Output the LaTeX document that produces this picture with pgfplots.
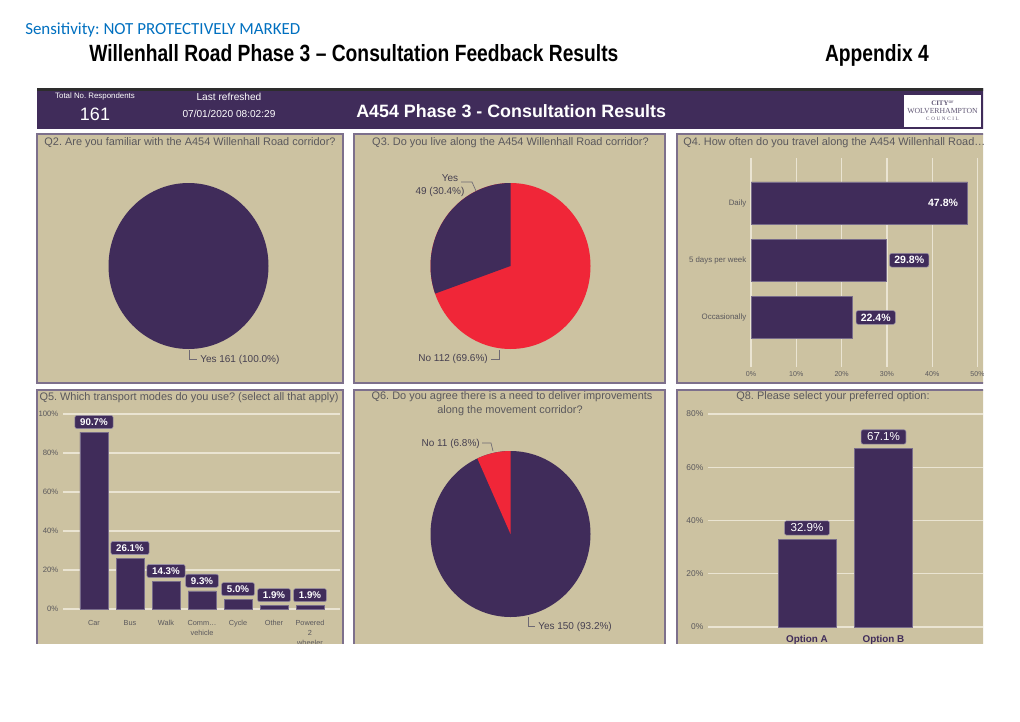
\documentclass[border=0pt]{standalone}
\usepackage{graphicx}
\usepackage{pgfplots}
\pgfplotsset{compat=1.18}
\usepackage{fontspec}
\setmainfont{Liberation Sans}
\newfontfamily\calibri{Carlito}
\newfontfamily\serifl{Liberation Serif}
\frenchspacing
\definecolor{qpurple}{RGB}{64,44,90}
\definecolor{qtan}{RGB}{204,194,161}
\definecolor{qred}{RGB}{240,38,56}
\definecolor{qborder}{RGB}{125,112,140}
\definecolor{qbarline}{RGB}{120,108,138}
\definecolor{qgrid}{RGB}{234,228,210}
\definecolor{qtext}{RGB}{90,88,92}
\definecolor{qlabel}{RGB}{70,64,80}
\definecolor{qblue}{RGB}{0,112,192}
\definecolor{qdark}{RGB}{45,45,45}
\definecolor{qlead}{RGB}{110,105,115}
\definecolor{qlbox}{RGB}{150,140,165}
\definecolor{qlogo}{RGB}{95,85,115}
\newcommand\fs[1]{\fontsize{#1}{#1}\selectfont}
\tikzset{
  lbl/.style={fill=qpurple, draw=qlbox, line width=0.4pt, rounded corners=1.5pt, text=white, inner ysep=2.3pt},
  ptitle/.style={text=qtext, font=\fs{8.2}, inner sep=0},
  plabel/.style={text=qlabel, font=\fs{7.5}, inner sep=0},
  lead/.style={draw=qlead, line width=0.5pt},
}
\pgfplotsset{
  dash/.style={scale only axis, clip=false, axis line style={draw=none}, major tick length=0pt,
    /pgf/number format/assume math mode=true,
    tick label style={text=qtext},
    major grid style={draw=qgrid, line width=1.1pt}},
  pie/.style={scale only axis, hide axis, clip=false, width=120pt, height=124.5pt,
    xmin=-1, xmax=1, ymin=-1, ymax=1, anchor=center},
}
\begin{document}
\begin{tikzpicture}[x=0.75pt,y=-0.75pt]
\useasboundingbox (0,0) rectangle (1020,721);
\fill[white] (0,0) rectangle (1020,721);
\coordinate (c2) at (188.5,266);
\coordinate (c3) at (510.5,266);
\coordinate (c4) at (751,367);
\coordinate (c5) at (63,609);
\coordinate (c6) at (510.5,534);
\coordinate (c8) at (708,627);
\node[anchor=base west, inner sep=0, text=qblue, font=\calibri\fs{12.7}] at (25,34) {Sensitivity: NOT PROTECTIVELY MARKED};
\node[anchor=base west, inner sep=0, font=\bfseries\fs{17.6}] at (89,61) {\scalebox{0.82}[1]{Willenhall Road Phase 3 – Consultation Feedback Results}};
\node[anchor=base east, inner sep=0, font=\bfseries\fs{17.6}] at (929,61) {\scalebox{0.82}[1]{Appendix 4}};

\begin{scope}
\clip (30,80) rectangle (983,643);
% header band
\fill[qpurple] (37,88) rectangle (990,129);
\fill[qdark] (37,87.5) rectangle (990,90.5);
\node[text=white, font=\fs{5.9}, inner sep=0] at (95,96.5) {Total No. Respondents};
\node[text=white, font=\fs{13.5}, inner sep=0] at (95,114.5) {161};
\node[text=white, font=\fs{7.6}, inner sep=0] at (229,96.5) {Last refreshed};
\node[text=white, font=\fs{7.6}, inner sep=0] at (229,114) {07/01/2020 08:02:29};
\node[anchor=west, text=white, font=\bfseries\fs{13.4}, inner sep=0] at (356,111) {A454 Phase 3 - Consultation Results};
\fill[white] (904,95) rectangle (981,127);
\node[text=qlogo, font=\serifl\bfseries\fs{5.2}, inner sep=0] at (942.5,103) {CITY\raisebox{1.2pt}{\fs{2.8}OF}};
\node[text=qlogo, font=\serifl\fs{5.8}, inner sep=0] at (942.5,110.5) {WOLVERHAMPTON};
\node[text=qlogo, font=\serifl\fs{3.8}, inner sep=0] at (942.5,118.5) {C\,\,O\,\,U\,\,N\,\,C\,\,I\,\,L};

% panels
\foreach \a/\b/\c/\d in {37/134/343/383, 354/134/665/383, 677/134/990/383, 37/390/343/650, 354/390/665/650, 677/390/990/650}
  \filldraw[fill=qtan, draw=qborder, line width=1.1pt] (\a,\b) rectangle (\c,\d);

% panel titles
\node[ptitle] at (190,142.5) {Q2. Are you familiar with the A454 Willenhall Road corridor?};
\node[ptitle] at (510.5,142.5) {Q3. Do you live along the A454 Willenhall Road corridor?};
\node[ptitle, anchor=west] at (683,142.5) {Q4. How often do you travel along the A454 Willenhall Road\ldots};
\node[ptitle] at (189,398) {Q5. Which transport modes do you use? (select all that apply)};
\node[ptitle] at (512,397) {Q6. Do you agree there is a need to deliver improvements};
\node[ptitle] at (510,410.5) {along the movement corridor?};
\node[ptitle] at (833,397) {Q8. Please select your preferred option:};

% Q2 pie
\begin{axis}[pie, at={(c2)}]
\fill[qpurple] (axis cs:0,0) ellipse[x radius=60pt, y radius=62.25pt];
\end{axis}
\draw[lead] (189,350) -- (189,359) -- (197,359);
\node[plabel, anchor=west] at (200,360) {Yes 161 (100.0\%)};

% Q3 pie: Yes 49 (30.4%), No 112 (69.6%)
\begin{axis}[pie, at={(c3)}]
\fill[qred] (axis cs:0,0) ellipse[x radius=60pt, y radius=62.25pt];
\fill[qpurple] (axis cs:0,0) -- (axis cs:0,1) arc[start angle=90, delta angle={3.6*30.4}, x radius=60pt, y radius=62.25pt] -- cycle;
\end{axis}
\draw[lead] (461,182) -- (472,182) -- (476,191);
\node[plabel] at (450,178) {Yes};
\node[plabel] at (440,192) {49 (30.4\%)};
\draw[lead] (491,359) -- (499,359) -- (499,350);
\node[plabel, anchor=east] at (488,359) {No 112 (69.6\%)};

% Q4 horizontal bars
\begin{axis}[dash, at={(c4)}, anchor=south west, width=169.9pt, height=156.75pt,
  xmin=0, xmax=50, ymin=-0.865, ymax=2.786, xbar, bar width=31.5pt,
  xtick={0,10,20,30,40,50}, xticklabel={\pgfmathprintnumber{\tick}\%},
  ytick={0,1,2}, yticklabels={Occasionally,5 days per week,Daily},
  xmajorgrids, xticklabel style={font=\fs{5.3}}, yticklabel style={font=\fs{5.9}}]
\addplot[fill=qpurple, draw=qbarline, line width=0.5pt] coordinates {(22.4,0) (29.8,1) (47.8,2)};
\node[anchor=east, xshift=-7pt, text=white, font=\bfseries\fs{7.9}, inner sep=0] at (axis cs:47.8,2) {47.8\%};
\node[lbl, anchor=west, xshift=2.5pt, font=\bfseries\fs{7.9}, inner xsep=3.5pt] at (axis cs:29.8,1) {29.8\%};
\node[lbl, anchor=west, xshift=2.5pt, font=\bfseries\fs{7.9}, inner xsep=3.5pt] at (axis cs:22.4,0) {22.4\%};
\end{axis}

% Q5 vertical bars
\begin{axis}[dash, at={(c5)}, anchor=south west, width=207.75pt, height=146.25pt,
  xmin=-0.861, xmax=6.833, ymin=0, ymax=100, ybar, bar width=21pt,
  ytick={0,20,40,60,80,100}, yticklabel={\pgfmathprintnumber{\tick}\%}, ymajorgrids,
  xtick={0,1,2,3,4,5,6}, xticklabels={Car,Bus,Walk,{Comm\ldots\\vehicle},Cycle,Other,{Powered\\2\\wheeler}},
  xticklabel style={align=center, font=\fontsize{5.5}{7.5}\selectfont, yshift=-5pt},
  yticklabel style={font=\fs{5.8}},
  nodes near coords={\pgfmathprintnumber[fixed,fixed zerofill,precision=1]{\pgfplotspointmeta}\%},
  nodes near coords style={lbl, font=\bfseries\fs{7.3}, inner xsep=4pt, anchor=south, yshift=2.5pt}]
\addplot[fill=qpurple, draw=qbarline, line width=0.5pt] coordinates {(0,90.7) (1,26.1) (2,14.3) (3,9.3) (4,5.0) (5,1.9) (6,1.9)};
\end{axis}

% Q6 pie: Yes 150 (93.2%), No 11 (6.8%)
\begin{axis}[pie, at={(c6)}]
\fill[qpurple] (axis cs:0,0) ellipse[x radius=60pt, y radius=62.25pt];
\fill[qred] (axis cs:0,0) -- (axis cs:0,1) arc[start angle=90, delta angle={3.6*6.8}, x radius=60pt, y radius=62.25pt] -- cycle;
\end{axis}
\draw[lead] (482,443) -- (491,443) -- (493,451);
\node[plabel, anchor=east] at (480,444) {No 11 (6.8\%)};
\draw[lead] (528,617) -- (528,626) -- (535,626);
\node[plabel, anchor=west] at (538,627) {Yes 150 (93.2\%)};

% Q8 vertical bars
\begin{axis}[dash, at={(c8)}, anchor=south west, width=206.25pt, height=159.75pt,
  xmin=-1.294, xmax=2.30, ymin=0, ymax=80, ybar, bar width=43.5pt,
  ytick={0,20,40,60,80}, yticklabel={\pgfmathprintnumber{\tick}\%}, ymajorgrids,
  xtick={0,1}, xticklabels={Option A,Option B},
  xticklabel style={font=\bfseries\fs{7.4}, text=qpurple, yshift=-2.5pt},
  yticklabel style={font=\fs{6.3}},
  nodes near coords={\pgfmathprintnumber[fixed,fixed zerofill,precision=1]{\pgfplotspointmeta}\%},
  nodes near coords style={lbl, font=\fs{8.7}, inner xsep=4.5pt, anchor=south, yshift=3pt}]
\addplot[fill=qpurple, draw=qbarline, line width=0.5pt] coordinates {(0,32.9) (1,67.1)};
\end{axis}
\end{scope}
\end{tikzpicture}
\end{document}
